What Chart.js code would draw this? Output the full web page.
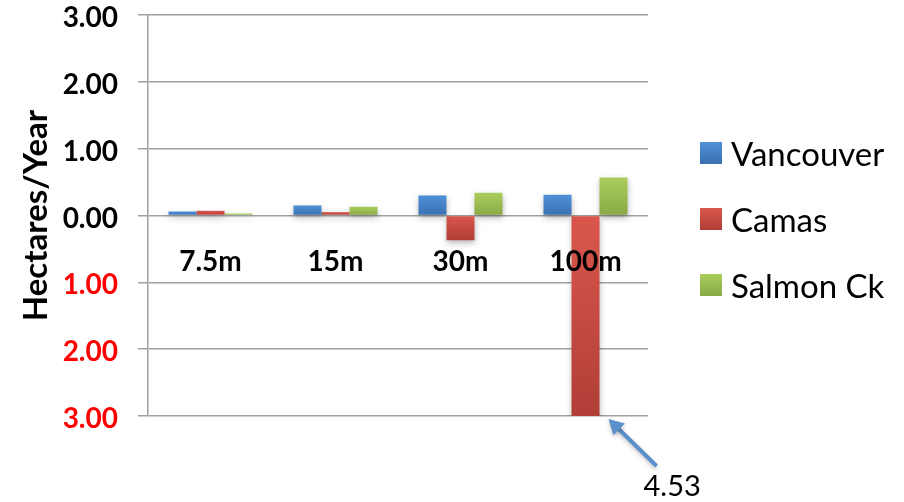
<!DOCTYPE html>
<html>
<head>
<meta charset="utf-8">
<script src="https://cdn.jsdelivr.net/npm/chart.js@4"></script>
<style>
  html, body { margin: 0; padding: 0; background: #fff; }
  #wrap { width: 904px; height: 502px; position: relative; }
  #legend { position: absolute; left: 700px; top: 131px; margin: 0; padding: 0; list-style: none;
            font-family: Lato, "Open Sans", sans-serif; font-size: 33px; color: #000; }
  #legend li { display: flex; align-items: center; height: 44px; margin-bottom: 22px; white-space: nowrap; }
  #legend .box { width: 22px; height: 22px; margin-right: 9px; flex: none; }
</style>
</head>
<body>
<div id="wrap"><canvas id="chart"></canvas><ul id="legend"></ul></div>
<script>
/* ── Data ─────────────────────────────────────────────────── */
const categories = ['7.5m', '15m', '30m', '100m'];
const vancouver  = [0.06, 0.15, 0.30, 0.31];
const camas      = [0.07, 0.05, -0.37, -4.53];
const salmonCk   = [0.03, 0.13, 0.34, 0.57];
const yTicks     = [-3, -2, -1, 0, 1, 2, 3];

const FONT = 'Lato, "Open Sans", sans-serif';
const COLORS = {
  Vancouver:   ['#4F91D8', '#3A70B0'],
  Camas:       ['#DA564D', '#B03F37'],
  'Salmon Ck': ['#ABCD5B', '#89A945']
};

/* ── Gradient fill per bar (light at top, darker at bottom) ─ */
function barFill(light, dark) {
  return (ctx) => {
    const chart = ctx.chart;
    const area = chart.chartArea;
    const y = chart.scales.y;
    if (ctx.type !== 'data' || !area || !y) return light;
    const v = ctx.raw;
    const top = y.getPixelForValue(Math.max(v, 0));
    const bot = Math.min(y.getPixelForValue(Math.min(v, 0)), area.bottom);
    if (!isFinite(top) || !isFinite(bot) || bot - top < 1) return light;
    const g = chart.ctx.createLinearGradient(0, top, 0, bot);
    g.addColorStop(0, light);
    g.addColorStop(1, dark);
    return g;
  };
}

/* ── Bar shadow ───────────────────────────────────────────── */
const shadowPlugin = {
  id: 'shadow',
  beforeDatasetsDraw(chart) {
    const c = chart.ctx;
    c.save();
    c.shadowColor = 'rgba(0,0,0,0.28)';
    c.shadowBlur = 6;
    c.shadowOffsetY = 3;
  },
  afterDatasetsDraw(chart) { chart.ctx.restore(); }
};

/* ── Arrow + off-scale value annotation ───────────────────── */
const arrowPlugin = {
  id: 'arrow',
  afterDraw(chart) {
    const bar = chart.getDatasetMeta(1).data[3];
    if (!bar) return;
    const c = chart.ctx;
    const tipX = bar.x + bar.width / 2 + 9;
    const tipY = chart.chartArea.bottom + 3;
    const tailX = tipX + 48, tailY = tipY + 47;
    const ang = Math.atan2(tipY - tailY, tipX - tailX);
    c.save();
    c.shadowColor = 'rgba(0,0,0,0.25)';
    c.shadowBlur = 4; c.shadowOffsetY = 2;
    c.strokeStyle = '#5B8FCB';
    c.fillStyle = '#5B8FCB';
    c.lineWidth = 4;
    c.beginPath();
    c.moveTo(tailX, tailY);
    c.lineTo(tipX - Math.cos(ang) * 10, tipY - Math.sin(ang) * 10);
    c.stroke();
    c.beginPath();
    c.moveTo(tipX, tipY);
    c.lineTo(tipX - Math.cos(ang - 0.5) * 17, tipY - Math.sin(ang - 0.5) * 17);
    c.lineTo(tipX - Math.cos(ang + 0.5) * 17, tipY - Math.sin(ang + 0.5) * 17);
    c.closePath();
    c.fill();
    c.restore();

    c.save();
    c.fillStyle = '#000';
    c.font = '29px ' + FONT;
    c.fillText(Math.abs(camas[3]).toFixed(2), tailX - 13, tailY + 30);
    c.restore();
  }
};

/* ── HTML legend ──────────────────────────────────────────── */
const htmlLegend = {
  id: 'htmlLegend',
  afterUpdate(chart) {
    const ul = document.getElementById('legend');
    ul.innerHTML = '';
    chart.data.datasets.forEach(ds => {
      const [light, dark] = COLORS[ds.label];
      const li = document.createElement('li');
      const box = document.createElement('span');
      box.className = 'box';
      box.style.background = `linear-gradient(${light}, ${dark})`;
      li.appendChild(box);
      li.appendChild(document.createTextNode(ds.label));
      ul.appendChild(li);
    });
  }
};

new Chart(document.getElementById('chart'), {
  type: 'bar',
  data: {
    labels: categories,
    datasets: [
      { label: 'Vancouver', data: vancouver, backgroundColor: barFill(...COLORS.Vancouver) },
      { label: 'Camas',     data: camas,     backgroundColor: barFill(...COLORS.Camas) },
      { label: 'Salmon Ck', data: salmonCk,  backgroundColor: barFill(...COLORS['Salmon Ck']) }
    ]
  },
  options: {
    responsive: true, maintainAspectRatio: false,
    animation: false,
    layout: { padding: { top: 15, bottom: 86, left: 0, right: 256 } },
    datasets: { bar: { categoryPercentage: 0.672, barPercentage: 1 } },
    plugins: {
      tooltip: { enabled: false },
      legend: { display: false }
    },
    scales: {
      x: {
        position: { y: 0 },
        z: 1,
        grid: { display: false },
        border: { display: false },
        ticks: { font: { family: FONT, size: 28, weight: 'bold' }, color: '#000', padding: 22, z: 1 }
      },
      y: {
        min: -3, max: 3,
        afterBuildTicks(axis) { axis.ticks = yTicks.map(v => ({ value: v })); },
        afterFit(axis) { axis.width = 148; axis.paddingTop = 0; axis.paddingBottom = 0; },
        grid: { color: '#A0A0A0', lineWidth: 1.5, tickLength: 10 },
        border: { color: '#A0A0A0', width: 1.5 },
        ticks: {
          font: { family: FONT, size: 28, weight: 'bold' },
          color: (ctx) => ctx.tick && ctx.tick.value < 0 ? '#FF0000' : '#000',
          padding: 20,
          labelOffset: 3,
          callback: (v) => Math.abs(v).toFixed(2)
        },
        title: {
          display: true,
          text: 'Hectares/Year',
          font: { family: FONT, size: 33, weight: 'bold' },
          color: '#000',
          padding: { top: 17, bottom: 0 }
        }
      }
    }
  },
  plugins: [shadowPlugin, arrowPlugin, htmlLegend]
});
</script>
</body>
</html>
